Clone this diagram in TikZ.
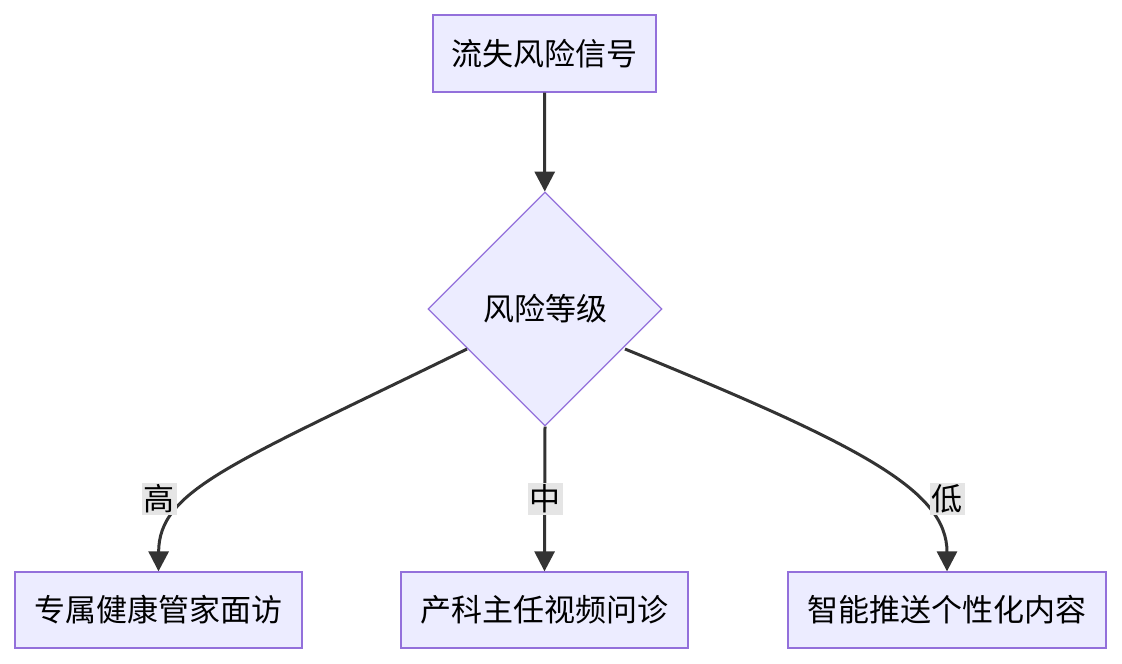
\documentclass[tikz,border=0pt]{standalone}
\usepackage{fontspec}
\setmainfont{Noto Sans CJK SC}
\usetikzlibrary{shapes.geometric,arrows.meta}
\definecolor{nfill}{HTML}{ECECFF}
\definecolor{nline}{HTML}{9370DB}
\definecolor{eline}{HTML}{333333}
\tikzset{
  box/.style={draw=nline,fill=nfill,line width=1.3pt,inner sep=0pt,font=\fontsize{31}{34}\selectfont},
  dia/.style={draw=nline,fill=nfill,line width=1.3pt,diamond,inner sep=0pt,minimum width=234pt,minimum height=234pt,font=\fontsize{31}{34}\selectfont},
  edge/.style={draw=eline,line width=3pt,-{Triangle[length=20pt,width=20pt]}},
  lbl/.style={fill=black!10,inner sep=2pt,font=\fontsize{31}{34}\selectfont}
}
\begin{document}
\begin{tikzpicture}[x=1pt,y=-1pt]
\useasboundingbox (0,0) rectangle (1122,664);
\node[box,minimum width=223pt,minimum height=77pt] (sig) at (544.5,53.5) {流失风险信号};
\node[dia] (lvl) at (545,309) {风险等级};
\node[box,minimum width=287pt,minimum height=76pt] (hi) at (158.5,610) {专属健康管家面访};
\node[box,minimum width=287pt,minimum height=76pt] (mid) at (544.5,610) {产科主任视频问诊};
\node[box,minimum width=318pt,minimum height=76pt] (lo) at (947,610) {智能推送个性化内容};
\coordinate (l1) at (467,349);
\coordinate (l3) at (625,349);
\draw[edge] (sig) -- (lvl);
\draw[edge] (l1) .. controls (230,465) and (159,490) .. (hi.north);
\draw[edge] (lvl.south) -- (mid.north);
\draw[edge] (l3) .. controls (860,445) and (947,490) .. (lo.north-|947,0);
\node[lbl] (th) at (159,499) {高};
\node[lbl] (tm) at (545,499) {中};
\node[lbl] (tl) at (947,499) {低};
\end{tikzpicture}
\end{document}
